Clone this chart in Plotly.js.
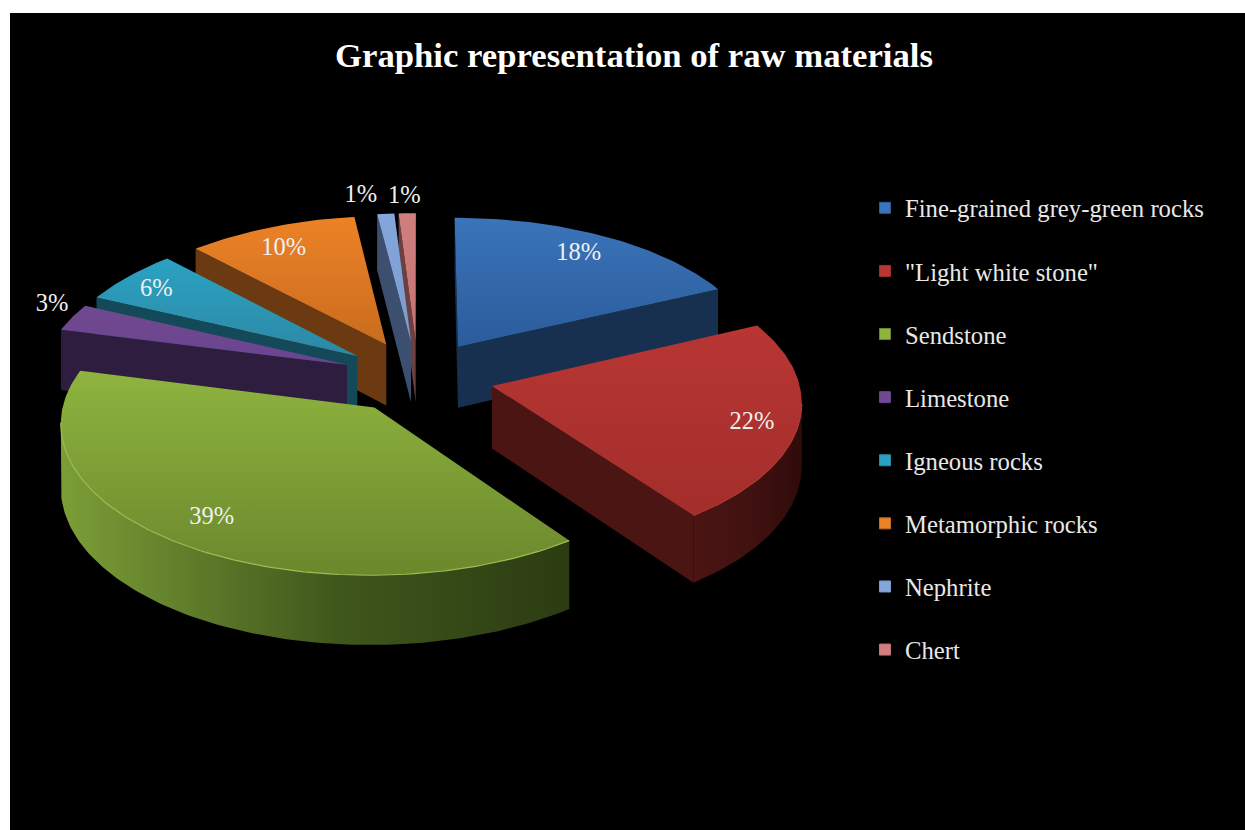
<!DOCTYPE html>
<html>
<head>
<meta charset="utf-8">
<script src="https://cdn.plot.ly/plotly-3.0.1.min.js"></script>
<style>html,body{margin:0;padding:0;background:#fff}#chart{width:1245px;height:830px}</style>
</head>
<body>
<div id="chart"></div>
<script>
// Shares of raw materials, in percent, clockwise from twelve o'clock
const categories = ['Fine-grained grey-green rocks', '"Light white stone"', 'Sendstone', 'Limestone',
  'Igneous rocks', 'Metamorphic rocks', 'Nephrite', 'Chert'];
const shares = [18, 22, 39, 3, 6, 10, 1, 1];

// Colours of the upper faces (far edge, near edge)
const topFar  = ['#3a74ba', '#b83633', '#8fb43f', '#70498f', '#2ba2c2', '#ec8226', '#84a6da', '#d17f7e'];
const topNear = ['#2b5c9a', '#a32e2b', '#6b882c', '#6a4490', '#2d88a5', '#c96c1f', '#7c9cd0', '#c47372'];
// Colours of the side walls
const wallFlat = ['#17304f', '#4a1513', '#3a4d18', '#2e1d3f', '#14495a', '#6b3a10', '#3d4f6e', '#6c4040'];
const arcLeft  = ['#17304f', '#4a1513', '#7c9e37', '#2e1d3f', '#14495a', '#6b3a10', '#3d4f6e', '#6c4040'];
const arcMid   = ['#17304f', '#401110', '#3f561b', '#2e1d3f', '#14495a', '#6b3a10', '#3d4f6e', '#6c4040'];
const arcRight = ['#17304f', '#2f0b0a', '#2c3c12', '#2e1d3f', '#14495a', '#6b3a10', '#3d4f6e', '#6c4040'];
const rimLight = [null, '#b23a36', '#9dc052', null, null, null, null, null];
// Value label shift from the middle of each outer edge
const labelShift = [[-26, 17], [-47, -1], [31, -26], [-20, -13], [28, 13], [13, 22], [-25, -18], [-3, -16]];
const drawOrder = [7, 6, 5, 4, 3, 0, 1, 2];

// Ground plane of the pie and its perspective view
const view = {cx: 418, cy: 377, radius: 306, pull: 76, depth: 0.0003, tilt: 0.478, height: 62};
const rad = d => d * Math.PI / 180;

function project(X, Z, drop) {
  const s = 1 / (1 + view.depth * Z);
  return [view.cx + X * s, view.cy - view.tilt * Z * s + (drop ? view.height * s : 0)];
}

function ground(mid, angle, r) {
  return [view.pull * Math.sin(rad(mid)) + r * view.radius * Math.sin(rad(angle)),
          view.pull * Math.cos(rad(mid)) + r * view.radius * Math.cos(rad(angle))];
}

function polygon(pts) {
  const closed = pts.concat([pts[0]]);
  return {x: closed.map(p => p[0]), y: closed.map(p => p[1])};
}

const traces = [];
const total = shares.reduce((a, b) => a + b, 0);
const starts = [];
shares.reduce((acc, v, i) => { starts[i] = acc; return acc + v; }, 0);

function addWall(points, gradient) {
  const bottom = points.map(g => project(g[0], g[1], true)).reverse();
  const upper = points.map(g => project(g[0], g[1], false));
  traces.push(Object.assign(polygon(upper.concat(bottom)), {
    type: 'scatter', mode: 'lines', line: {width: 0}, fill: 'toself',
    fillgradient: gradient, showlegend: false, hoverinfo: 'skip'
  }));
}
const flat = c => ({type: 'horizontal', colorscale: [[0, c], [1, c]]});

drawOrder.forEach(i => {
  const a0 = starts[i] / total * 360;
  const a1 = (starts[i] + shares[i]) / total * 360;
  const mid = (a0 + a1) / 2;
  const arc = [];
  const steps = Math.max(4, Math.round(a1 - a0));
  for (let k = 0; k <= steps; k++) arc.push(ground(mid, a0 + (a1 - a0) * k / steps, 1));
  const apex = ground(mid, mid, 0);

  // Only walls below an edge running leftwards on screen face the viewer
  const leftward = (p, q) => project(q[0], q[1])[0] < project(p[0], p[1])[0];
  if (leftward(apex, arc[0])) addWall([apex, arc[0]], flat(wallFlat[i]));
  if (leftward(arc[steps], apex)) addWall([arc[steps], apex], flat(wallFlat[i]));
  const run = arc.filter((p, k) => (k < steps && leftward(p, arc[k + 1])) || (k > 0 && leftward(arc[k - 1], p)));
  let rim = null;
  if (run.length > 1) {
    addWall(run, {type: 'horizontal', colorscale: [[0, arcLeft[i]], [0.55, arcMid[i]], [1, arcRight[i]]]});
    if (rimLight[i]) rim = run.map(g => project(g[0], g[1], false));
  }

  // Upper face, lit from the far edge
  const top = [project(apex[0], apex[1])].concat(arc.map(g => project(g[0], g[1])));
  traces.push(Object.assign(polygon(top), {
    type: 'scatter', mode: 'lines', line: {width: 0}, fill: 'toself',
    fillgradient: {type: 'vertical', colorscale: [[0, topNear[i]], [1, topFar[i]]]},
    showlegend: false, hoverinfo: 'skip'
  }));
  if (rim) traces.push({
    type: 'scatter', mode: 'lines', x: rim.map(p => p[0]), y: rim.map(p => p[1]),
    line: {color: rimLight[i], width: 1.2}, showlegend: false, hoverinfo: 'skip'
  });
});

// Value labels
const labelPos = shares.map((v, i) => {
  const mid = (starts[i] + v / 2) / total * 360;
  const g = ground(mid, mid, 1);
  const p = project(g[0], g[1]);
  return [p[0] + labelShift[i][0], p[1] + labelShift[i][1]];
});
traces.push({
  type: 'scatter', mode: 'text', x: labelPos.map(p => p[0]), y: labelPos.map(p => p[1]),
  text: shares.map(v => v + '%'), textposition: 'middle center', cliponaxis: false,
  textfont: {family: '"Liberation Serif", serif', size: 24.5, color: '#f0f0f0'},
  showlegend: false, hoverinfo: 'skip'
});

// Legend entries
categories.forEach((name, i) => traces.push({
  type: 'scatter', mode: 'markers', x: [null], y: [null], name, legendgroup: 'g' + i,
  marker: {symbol: 'square', size: 11, color: topFar[i], line: {width: 1, color: topNear[i]}},
  hoverinfo: 'skip'
}));

Plotly.newPlot('chart', traces, {
  width: 1245, height: 830,
  paper_bgcolor: '#ffffff', plot_bgcolor: '#000000',
  margin: {l: 10, t: 13, r: 0, b: 0, autoexpand: false},
  xaxis: {range: [10, 1245], visible: false, fixedrange: true},
  yaxis: {range: [830, 13], visible: false, fixedrange: true},
  title: {
    text: 'Graphic representation of raw materials',
    x: (634 - 10) / 1235, xanchor: 'center', xref: 'paper', y: 1 - 55 / 830, yanchor: 'middle', yref: 'container',
    font: {family: '"Liberation Serif", serif', size: 34.7, color: '#ffffff', weight: 'bold'}
  },
  legend: {
    x: 0.6923, xanchor: 'left', y: 1 - 175 / 830, yanchor: 'top',
    bgcolor: 'rgba(0,0,0,0)', tracegroupgap: 28, itemclick: false, itemdoubleclick: false,
    font: {family: '"Liberation Serif", serif', size: 24.7, color: '#e8e8e8'}
  },
  showlegend: true,
  hovermode: false
}, {displayModeBar: false, staticPlot: true});
</script>
</body>
</html>
